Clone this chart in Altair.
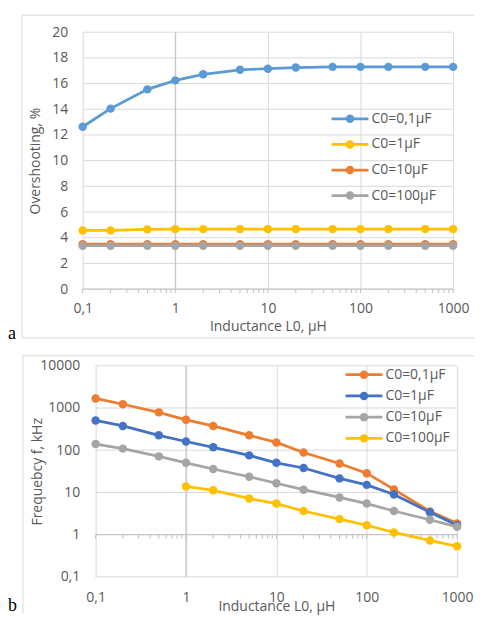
import altair as alt
import pandas as pd

# ---------------- data ----------------
inductance = [0.1, 0.2, 0.5, 1, 2, 5, 10, 20, 50, 100, 200, 500, 1000]
series_names = ["C0=0,1µF", "C0=1µF", "C0=10µF", "C0=100µF"]

# panel a: overshooting, %
over_c01 = [12.64, 14.05, 15.55, 16.25, 16.72, 17.07, 17.16, 17.25, 17.3, 17.3, 17.3, 17.3, 17.3]
over_c1 = [4.57, 4.57, 4.65, 4.67, 4.67, 4.67, 4.67, 4.67, 4.67, 4.67, 4.67, 4.67, 4.67]
over_c10 = [3.5, 3.5, 3.5, 3.5, 3.5, 3.5, 3.5, 3.5, 3.5, 3.5, 3.5, 3.5, 3.5]
over_c100 = [3.38, 3.38, 3.38, 3.38, 3.38, 3.38, 3.38, 3.38, 3.38, 3.38, 3.38, 3.38, 3.38]

# panel b: frequency, kHz
freq_c01 = [1683, 1225, 788, 525, 376, 225, 153, 88, 48.5, 28.6, 11.8, 3.56, 1.85]
freq_c1 = [507, 376, 225, 161, 117, 75.4, 50.3, 37.9, 21.5, 15.1, 8.9, 3.4, 1.67]
freq_c10 = [140, 109, 71.5, 50.3, 35.9, 23.5, 16.5, 11.6, 7.6, 5.44, 3.63, 2.25, 1.53]
freq_c100 = [None, None, None, 13.9, 11.2, 7.2, 5.44, 3.63, 2.33, 1.67, 1.13, 0.73, 0.53]

colors_a = ["#5B9BD5", "#FFC000", "#ED7D31", "#A5A5A5"]
colors_b = ["#ED7D31", "#4472C4", "#A5A5A5", "#FFC000"]

decade_ticks = [0.1, 1, 10, 100, 1000]
minor_ticks = [0.2, 0.3, 0.4, 0.5, 0.6, 0.7, 0.8, 0.9,
               2, 3, 4, 5, 6, 7, 8, 9,
               20, 30, 40, 50, 60, 70, 80, 90,
               200, 300, 400, 500, 600, 700, 800, 900]
over_ticks = [0, 2, 4, 6, 8, 10, 12, 14, 16, 18, 20]
freq_ticks = [0.1, 1, 10, 100, 1000, 10000]

# ---------------- style ----------------
FONT = "Open Sans"
TEXT = "#595959"
GRID = "#D9D9D9"
AXIS = "#BFBFBF"
FRAME = "#D9D9D9"
LABEL_EXPR = "replace(format(datum.value, '~g'), '.', ',')"


def long_df(lists):
    rows = []
    for i, (name, vals) in enumerate(zip(series_names, lists)):
        for x, v in zip(inductance, vals):
            if v is not None:
                rows.append({"L": x, "v": v, "series": name, "k": i})
    return pd.DataFrame(rows)


one = pd.DataFrame({"d": [0]})
legend_df = pd.DataFrame({"series": series_names, "k": list(range(len(series_names)))})


def frame_rule(x, y, x2=None, y2=None):
    enc = {"x": alt.value(x), "y": alt.value(y)}
    if x2 is not None:
        enc["x2"] = alt.value(x2)
    if y2 is not None:
        enc["y2"] = alt.value(y2)
    return alt.Chart(one).mark_rule(color=FRAME, strokeWidth=1).encode(**enc)


def panel(df, colors, W, H, xrange, xax, yax, yscale, yticks, axis_y_value, leg,
          letter, letter_xy, frame):
    xscale = alt.Scale(type="log", domain=[0.1, 1000], nice=False, range=xrange)
    cscale = alt.Scale(domain=series_names, range=colors)
    X = alt.X("L:Q", scale=xscale, axis=xax)
    Y = alt.Y("v:Q", scale=yscale, axis=yax)
    C = alt.Color("series:N", scale=cscale, legend=None)

    ygrid = alt.Chart(pd.DataFrame({"t": yticks})).mark_rule(color=GRID, strokeWidth=1).encode(
        y=alt.Y("t:Q", scale=yscale, axis=yax),
        x=alt.value(xrange[0]), x2=alt.value(xrange[1]))
    axis_v = alt.Chart(one).mark_rule(color=AXIS, strokeWidth=1).encode(
        x=alt.XDatum(1, type="quantitative", scale=xscale, axis=xax))
    axis_h = alt.Chart(one).mark_rule(color=AXIS, strokeWidth=1).encode(
        y=alt.YDatum(axis_y_value, type="quantitative", scale=yscale, axis=yax),
        x=alt.value(xrange[0]), x2=alt.value(xrange[1]))
    ticks = alt.Chart(pd.DataFrame({"L": minor_ticks + decade_ticks})).mark_tick(
        orient="vertical", size=4, thickness=1, yOffset=2, color=AXIS, opacity=1
    ).encode(x=X, y=alt.YDatum(axis_y_value, type="quantitative", scale=yscale, axis=yax))

    lines = alt.Chart(df).mark_line(strokeWidth=2.75).encode(
        x=X, y=Y, color=C, detail="series:N", order="L:Q")
    pts = alt.Chart(df).mark_point(filled=True, size=72, opacity=1, shape="circle").encode(
        x=X, y=Y, color=C)

    # legend (line + marker + label), laid out in rows
    lx, ly, dy = leg
    lbase = alt.Chart(legend_df).transform_calculate(ypix=f"{ly} + datum.k * {dy}")
    LY = alt.Y("ypix:Q", scale=None)
    leg_line = lbase.mark_rule(strokeWidth=2.75).encode(
        x=alt.value(lx), x2=alt.value(lx + 37), y=LY, color=C)
    leg_pt = lbase.mark_point(filled=True, size=72, opacity=1, shape="circle").encode(
        x=alt.value(lx + 18.5), y=LY, color=C)
    leg_txt = lbase.mark_text(font=FONT, fontSize=14, color=TEXT, align="left",
                              baseline="middle").encode(
        x=alt.value(lx + 40), y=LY, text="series:N")

    letter_mark = alt.Chart(one).mark_text(
        text=letter, font="Liberation Serif", fontSize=18, color="black",
        align="left", baseline="alphabetic"
    ).encode(x=alt.value(letter_xy[0]), y=alt.value(letter_xy[1]))

    frames = [frame_rule(*f) for f in frame]
    return alt.layer(*frames, ygrid, axis_v, axis_h, ticks, lines, pts,
                     leg_line, leg_pt, leg_txt, letter_mark).properties(width=W, height=H)


common_axis = dict(labelFont=FONT, labelFontSize=14, labelColor=TEXT, titleFont=FONT,
                   titleFontSize=14, titleFontWeight="normal", titleColor=TEXT)

# Both plot groups start at the same x; panel a's plot is drawn 13px further left.
# ---------------- panel a ----------------
W_A, H_A = 359, 258
xax_a = alt.Axis(values=decade_ticks, labelExpr=LABEL_EXPR, labelFlush=False, grid=True,
                 gridColor=GRID, domain=False, ticks=False, labelPadding=13,
                 title="Inductance L0, µH", titleY=42, titleBaseline="alphabetic",
                 **common_axis)
yax_a = alt.Axis(values=over_ticks, grid=False, domain=False, ticks=False, offset=13,
                 labelPadding=15, labelFlush=False, title="Overshooting, %", titleAngle=270,
                 titleX=-47, titleY=129, titleBaseline="middle", **common_axis)
chart_a = panel(long_df([over_c01, over_c1, over_c10, over_c100]), colors_a, W_A, H_A,
                [-13, 359], xax_a, yax_a, alt.Scale(domain=[0, 20], nice=False), over_ticks, 0,
                (237, 87, 25.7), "a", (-88, 308),
                [(-74, -17, 380, None), (-74, -17, None, 307), (-74, 307, 380, None)])

# ---------------- panel b ----------------
W_B, H_B = 363, 212
xax_b = alt.Axis(values=decade_ticks, labelExpr=LABEL_EXPR, labelFlush=False, grid=True,
                 gridColor=GRID, domain=False, ticks=False, labelPadding=14,
                 title="Inductance L0, µH", titleY=34, titleBaseline="alphabetic",
                 **common_axis)
yax_b = alt.Axis(values=freq_ticks, labelExpr=LABEL_EXPR, labelFlush=False, grid=False,
                 domain=False, ticks=False, labelPadding=16,
                 title="Frequebcy f, kHz", titleAngle=270, titleX=-58, titleY=106,
                 titleBaseline="middle", **common_axis)
chart_b = panel(long_df([freq_c01, freq_c1, freq_c10, freq_c100]), colors_b, W_B, H_B,
                [0, 363], xax_b, yax_b, alt.Scale(type="log", domain=[0.1, 10000], nice=False),
                freq_ticks, 1,
                (251, 9, 21.3), "b", (-88, 246),
                [(-73, -10, 380, None), (-73, -10, None, 249)])

chart = alt.concat(chart_a, chart_b, columns=1, spacing=12).resolve_scale(
    color="independent", x="independent", y="independent"
).properties(
    padding={"left": 0, "top": 5, "right": 0, "bottom": 0}, background="white"
).configure_view(strokeWidth=0)

chart.save("out.html", embed_options={"renderer": "svg", "actions": False})
